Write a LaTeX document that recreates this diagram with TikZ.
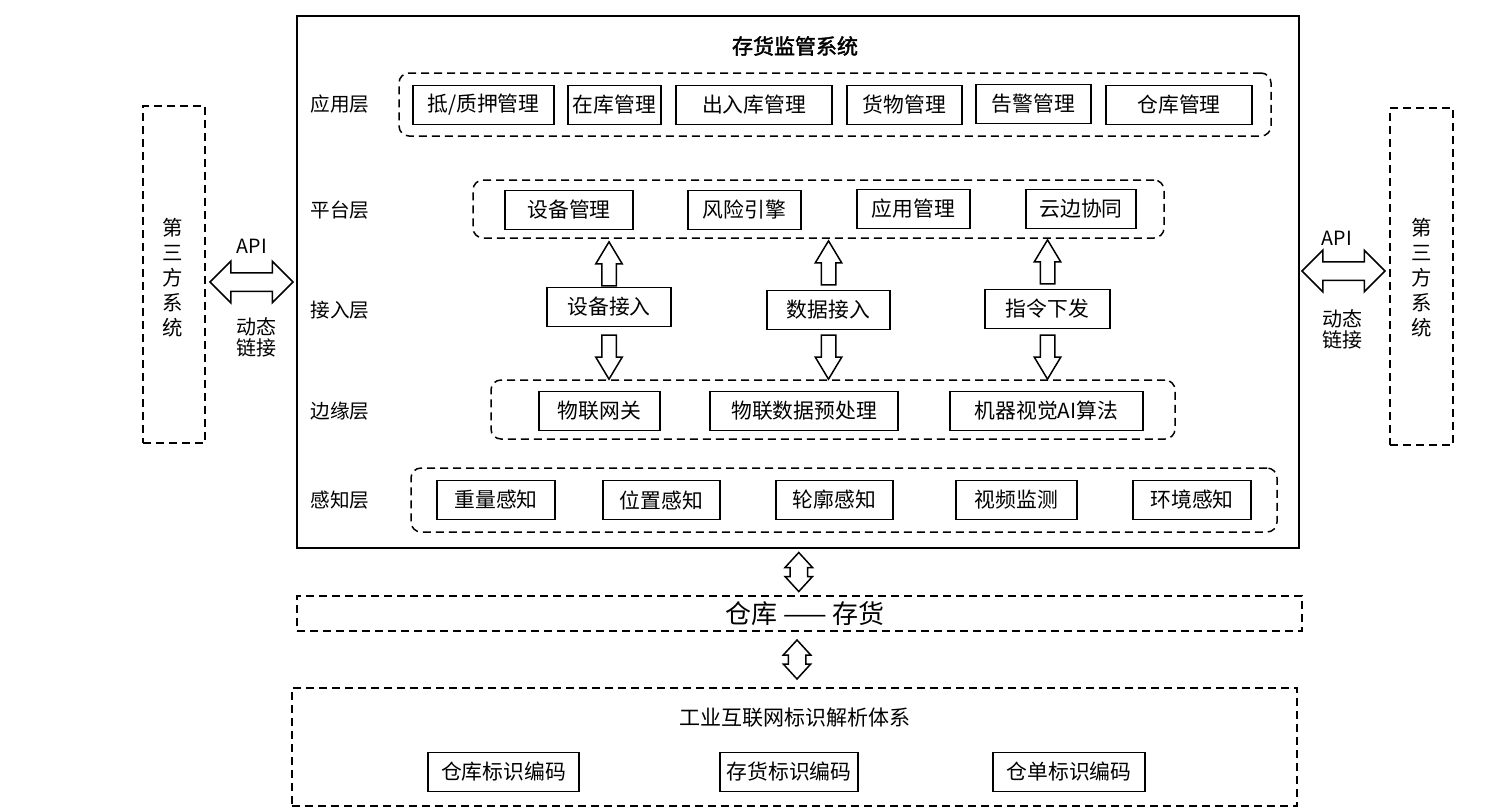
\documentclass[tikz,border=0pt]{standalone}
\usepackage{fontspec}
\setmainfont{Noto Sans CJK SC}[AutoFakeBold=2]
\usetikzlibrary{shapes.arrows,calc}

\begin{document}
\begin{tikzpicture}[x=0.5pt, y=-0.5pt, line width=0.75pt,
  every node/.style={font=\fontsize{10.4pt}{12pt}\selectfont},
  box/.style={draw, line width=0.9pt, minimum height=19.5pt, inner sep=0pt},
  layer/.style={draw, dash pattern=on 4pt off 2.5pt, rounded corners=5pt, inner sep=0pt},
  frame/.style={draw, dash pattern=on 4pt off 2.5pt, inner sep=0pt},
  lab/.style={font=\fontsize{9.8pt}{11pt}\selectfont},
  fatup/.style={draw, fill=white, single arrow, shape border rotate=90,
    inner xsep=3.25pt, inner ysep=0pt,
    minimum height=22pt, minimum width=12.5pt, single arrow head extend=3pt,
    single arrow tip angle=62},
  fatdown/.style={fatup, shape border rotate=270},
  fatlr/.style={draw, fill=white, double arrow, inner xsep=0pt, inner ysep=4.25pt,
    minimum height=41.5pt, minimum width=20pt, double arrow head extend=5.75pt,
    double arrow tip angle=90},
  fatud/.style={draw, fill=white, double arrow, shape border rotate=90,
    inner xsep=4pt, inner ysep=0pt, minimum height=19.5pt, minimum width=13pt,
    double arrow head extend=2.5pt, double arrow tip angle=85}]

  \useasboundingbox (0,0) rectangle (1503,810);

  % system frame
  \node[draw, minimum width=501pt, minimum height=266pt, inner sep=0pt] (sys) at (798,282) {};
  \node[font=\fontsize{10.5pt}{12pt}\selectfont\bfseries] (title) at (795,46) {存货监管系统};

  % application layer
  \node[lab] (applab) at (340,104) {应用层};
  \node[layer, minimum width=436pt, minimum height=31.5pt] (applayer) at (835,104.5) {};
  \node[box, minimum width=70.5pt] (pledge) at (483.5,105) {抵/质押管理};
  \node[box, minimum width=46.5pt] (instock) at (614.5,105) {在库管理};
  \node[box, minimum width=78pt] (inout) at (754,105) {出入库管理};
  \node[box, minimum width=57.5pt] (goods) at (904.5,105) {货物管理};
  \node[box, minimum width=57.5pt] (alarm) at (1033.5,104) {告警管理};
  \node[box, minimum width=73pt] (whmgr) at (1179,105) {仓库管理};

  % platform layer
  \node[lab] (platlab) at (340,210) {平台层};
  \node[layer, minimum width=345.5pt, minimum height=29pt] (platlayer) at (818.5,209) {};
  \node[box, minimum width=64pt] (devmgr) at (569,210) {设备管理};
  \node[box, minimum width=56.5pt] (risk) at (744.5,210) {风险引擎};
  \node[box, minimum width=56.5pt] (appmgr) at (913.5,209) {应用管理};
  \node[box, minimum width=55pt] (cloudedge) at (1081,209) {云边协同};

  % access layer
  \node[lab] (acclab) at (340,310) {接入层};
  \node[box, minimum width=62pt] (devin) at (609,307) {设备接入};
  \node[box, minimum width=61.5pt] (datain) at (828.5,310) {数据接入};
  \node[box, minimum width=62.5pt] (cmd) at (1047.5,309) {指令下发};

  % edge layer
  \node[lab] (edgelab) at (340,411) {边缘层};
  \node[layer, minimum width=342pt, minimum height=29.5pt] (edgelayer) at (833,409.5) {};
  \node[box, minimum width=60.5pt] (gateway) at (599.5,411) {物联网关};
  \node[box, minimum width=94pt] (preproc) at (804,411) {物联数据预处理};
  \node[box, minimum width=96.5pt] (vision) at (1046.5,411) {机器视觉AI算法};

  % sensing layer
  \node[lab] (senselab) at (340,500) {感知层};
  \node[layer, minimum width=433pt, minimum height=32pt] (senselayer) at (844,500) {};
  \node[box, minimum width=59pt] (weight) at (496,500) {重量感知};
  \node[box, minimum width=58.5pt] (position) at (661.5,500) {位置感知};
  \node[box, minimum width=58.5pt] (contour) at (834.5,500) {轮廓感知};
  \node[box, minimum width=60.5pt] (video) at (1016.5,500) {视频监测};
  \node[box, minimum width=59pt] (envir) at (1192,500) {环境感知};

  % access arrows
  \node[fatup, anchor=tail] (up1) at (devin.north) {};
  \node[fatup, anchor=tail] (up2) at ($(datain.north)+(0,-4)$) {};
  \node[fatup, anchor=tail] (up3) at ($(cmd.north)+(0,-4)$) {};
  \node[fatdown, anchor=tail] (dn1) at ($(devin.south)+(0,7)$) {};
  \node[fatdown, anchor=tail] (dn2) at ($(datain.south)+(0,4)$) {};
  \node[fatdown, anchor=tail] (dn3) at ($(cmd.south)+(0,5)$) {};

  % third party systems
  \node[frame, minimum width=31pt, minimum height=168.5pt] (thirdL) at (174,274.5) {};
  \node[lab, align=center, font=\fontsize{10.2pt}{12.5pt}\selectfont] (thirdLtxt) at (173,278) {第\\三\\方\\系\\统};
  \node[fatlr] (apiL) at (251.5,282) {};
  \node[lab] (apiLtxt) at (252,246) {API};
  \node[align=center, font=\fontsize{10pt}{10.5pt}\selectfont] (linkL) at (256,337) {动态\\链接};

  \node[frame, minimum width=31.5pt, minimum height=168.5pt] (thirdR) at (1421.5,276.5) {};
  \node[lab, align=center, font=\fontsize{10.2pt}{12.5pt}\selectfont] (thirdRtxt) at (1422,278) {第\\三\\方\\系\\统};
  \node[fatlr] (apiR) at (1343.5,271) {};
  \node[lab] (apiRtxt) at (1337,238) {API};
  \node[align=center, font=\fontsize{10pt}{10.5pt}\selectfont] (linkR) at (1342,329) {动态\\链接};

  % warehouse / goods
  \node[frame, minimum width=502.5pt, minimum height=17.5pt] (store) at (799.5,613.5) {};
  \node[font=\fontsize{13pt}{14pt}\selectfont] (storetxt) at (805,614) {仓库 —— 存货};
  \node[fatud] (link1) at ($(sys.south)!0.5!(store.north)$) {};

  % identification system
  \node[frame, minimum width=502.5pt, minimum height=59pt] (idsys) at (794.5,747) {};
  \node[font=\fontsize{10.5pt}{12pt}\selectfont] (idtitle) at (795,718) {工业互联网标识解析体系};
  \node[box, minimum width=75.5pt] (whcode) at (503.5,772) {仓库标识编码};
  \node[box, minimum width=69pt] (goodscode) at (789,772) {存货标识编码};
  \node[box, minimum width=76pt] (receiptcode) at (1069,772) {仓单标识编码};
  \node[fatud] (link2) at ($(store.south)!0.5!(idsys.north)$) {};
\end{tikzpicture}
\end{document}
